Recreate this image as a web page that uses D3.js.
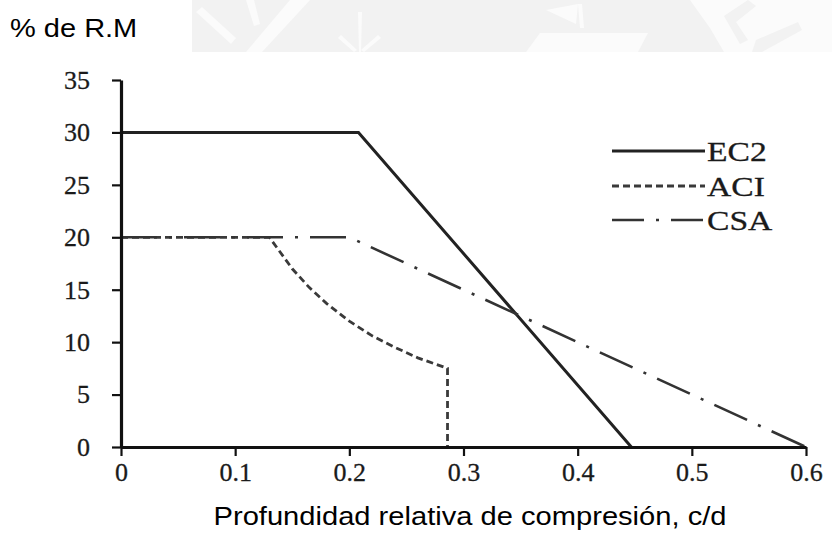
<!DOCTYPE html>
<html>
<head>
<meta charset="utf-8">
<script src="https://cdn.jsdelivr.net/npm/d3@7"></script>
<style>
  html, body { margin: 0; padding: 0; background: #fff; }
  svg { display: block; }
</style>
</head>
<body>
<svg id="chart" width="832" height="543"></svg>
<script>
// Moment redistribution limits vs. relative compression depth
const seriesNames = ["EC2", "ACI", "CSA"];

const ec2X = [0, 0.208, 0.447];
const ec2Y = [30, 30, 0];

const aciX = [0, 0.13, 0.15, 0.165, 0.18, 0.2, 0.22, 0.24, 0.26, 0.286, 0.286];
const aciY = [20, 20, 17, 15.2, 13.7, 12, 10.6, 9.5, 8.5, 7.5, 0];

const csaX = [0, 0.2, 0.6];
const csaY = [20, 20, 0];

const xTicks = [0, 0.1, 0.2, 0.3, 0.4, 0.5, 0.6];
const xTickLabels = ["0", "0.1", "0.2", "0.3", "0.4", "0.5", "0.6"];
const yTicks = [0, 5, 10, 15, 20, 25, 30, 35];

const yTitle = "% de R.M";
const xTitle = "Profundidad relativa de compresión, c/d";

const svg = d3.select("#chart");

// faint letterhead band behind the title
const wm = svg.append("g").attr("class", "watermark");
wm.append("rect").attr("x", 192).attr("y", 0).attr("width", 640).attr("height", 52).attr("fill", "#f2f2f2");
const wmShapes = [
  [[196, 12], [202, 7], [236, 38], [231, 44]],
  [[246, 0], [254, 0], [260, 24], [254, 26]],
  [[290, 0], [310, 0], [262, 52], [246, 52]],
  [[358, 12], [362, 12], [361, 52], [359, 52]],
  [[338, 38], [341, 35], [357, 50], [354, 52]],
  [[378, 35], [381, 38], [364, 52], [361, 50]],
  [[546, 10], [578, 4], [576, 24]],
  [[578, 4], [582, 4], [584, 28], [580, 28]],
  [[540, 33], [648, 33], [638, 52], [526, 52]],
  [[690, 0], [832, 0], [832, 52], [724, 52], [710, 28]]
];
wm.selectAll("polygon.w").data(wmShapes).join("polygon").attr("class", "w")
  .attr("points", d => d.map(p => p.join(",")).join(" "))
  .attr("fill", "#fbfbfb");
const wmGray = [
  [[724, 16], [748, 0], [756, 6], [736, 22], [748, 40], [740, 44]],
  [[756, 40], [798, 22], [802, 30], [762, 52], [752, 52]]
];
wm.selectAll("polygon.g").data(wmGray).join("polygon").attr("class", "g")
  .attr("points", d => d.map(p => p.join(",")).join(" "))
  .attr("fill", "#f2f2f2");

const x = d3.scaleLinear().domain([0, 0.6]).range([121, 806]);
const y = d3.scaleLinear().domain([0, 35]).range([447, 80]);

const serif = "'Liberation Serif', 'Times New Roman', serif";
const sans = "'Liberation Sans', Arial, sans-serif";

// series
const styles = {
  EC2: { color: "#222222", width: 3, dash: null },
  ACI: { color: "#3a3a3a", width: 2.8, dash: "7,4" },
  CSA: { color: "#333333", width: 2.6, dash: "36,12,3,12" }
};
const data = {
  EC2: ec2X.map((v, i) => [v, ec2Y[i]]),
  ACI: aciX.map((v, i) => [v, aciY[i]]),
  CSA: csaX.map((v, i) => [v, csaY[i]])
};
const line = d3.line().x(d => x(d[0])).y(d => y(d[1]));

seriesNames.forEach(name => {
  const s = styles[name];
  svg.append("path")
    .datum(data[name])
    .attr("d", line)
    .attr("fill", "none")
    .attr("stroke", s.color)
    .attr("stroke-width", s.width)
    .attr("stroke-dasharray", s.dash)
    .attr("stroke-linejoin", "miter");
});

// axes
const xAxis = d3.axisBottom(x).tickValues(xTicks)
  .tickFormat((d, i) => xTickLabels[i]).tickSize(9).tickSizeOuter(0).tickPadding(7);
const yAxis = d3.axisLeft(y).tickValues(yTicks).tickSize(9).tickSizeOuter(0).tickPadding(22);

const gx = svg.append("g").attr("transform", `translate(0,${y(0)})`).call(xAxis);
const gy = svg.append("g").attr("transform", `translate(${x(0)},0)`).call(yAxis);

[gx, gy].forEach(g => {
  g.select(".domain").attr("stroke", "#111").attr("stroke-width", 3.2);
  g.selectAll(".tick line").attr("stroke", "#111").attr("stroke-width", 2.2);
  g.selectAll(".tick text")
    .attr("font-family", serif)
    .attr("font-size", 26)
    .attr("fill", "#1a1a1a")
    .attr("stroke", "#1a1a1a")
    .attr("stroke-width", 0.3);
});

// text placed at (tx, ty) and widened horizontally by sx
function stretchedText(parent, tx, ty, sx, str) {
  return parent.append("text")
    .attr("transform", `translate(${tx},${ty}) scale(${sx},1)`)
    .text(str);
}

// legend
const legendY = [151, 186, 220];
const lg = svg.append("g");
seriesNames.forEach((name, i) => {
  const s = styles[name];
  lg.append("line")
    .attr("x1", 612).attr("x2", 705)
    .attr("y1", legendY[i]).attr("y2", legendY[i])
    .attr("stroke", s.color)
    .attr("stroke-width", s.width)
    .attr("stroke-dasharray", name === "CSA" ? "32,12,3,12" : s.dash);
  stretchedText(lg, 707, legendY[i], 1.2, name)
    .attr("dy", "0.35em")
    .attr("font-family", serif)
    .attr("font-size", 28)
    .attr("fill", "#1a1a1a")
    .attr("stroke", "#1a1a1a")
    .attr("stroke-width", 0.3);
});

// titles
stretchedText(svg, 10, 37, 1.16, yTitle)
  .attr("font-family", sans).attr("font-size", 25).attr("fill", "#000");

stretchedText(svg, 470, 525, 1.12, xTitle)
  .attr("text-anchor", "middle")
  .attr("font-family", sans).attr("font-size", 26).attr("fill", "#000");
</script>
</body>
</html>
